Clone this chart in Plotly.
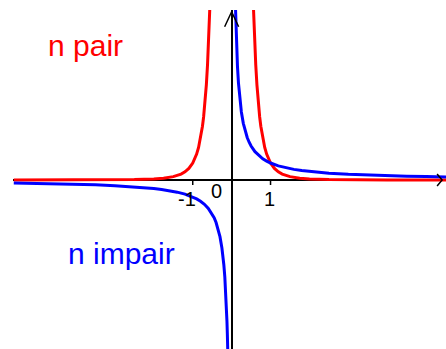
import plotly.graph_objects as go

# ---- data ----
# even n curve (red)
RED_X_LEFT = [-5.6, -4.0, -3.0, -2.5, -2.0, -1.75, -1.5, -1.4, -1.3, -1.2, -1.1, -1.0,
              -0.95, -0.9, -0.85, -0.8, -0.78, -0.75, -0.72, -0.7, -0.68, -0.65, -0.62,
              -0.6, -0.58, -0.56]
RED_Y_LEFT = [0.001, 0.0039, 0.0123, 0.0256, 0.0625, 0.1066, 0.1975, 0.2603, 0.3501, 0.4823,
              0.683, 1.0, 1.228, 1.524, 1.916, 2.441, 2.702, 3.160, 3.721, 4.165, 4.677,
              5.602, 6.768, 7.716, 8.837, 10.168]
RED_X_RIGHT = [0.56, 0.58, 0.6, 0.62, 0.65, 0.68, 0.7, 0.72, 0.75, 0.78, 0.8, 0.85, 0.9,
               0.95, 1.0, 1.1, 1.2, 1.3, 1.4, 1.5, 1.75, 2.0, 2.5, 3.0, 4.0, 5.6]
RED_Y_RIGHT = [10.168, 8.837, 7.716, 6.768, 5.602, 4.677, 4.165, 3.721, 3.160, 2.702, 2.441,
               1.916, 1.524, 1.228, 1.0, 0.683, 0.4823, 0.3501, 0.2603, 0.1975, 0.1066,
               0.0625, 0.0256, 0.0123, 0.0039, 0.001]

# odd n curve (blue)
BLUE_X_LEFT = [-5.6, -5.0, -4.5, -4.0, -3.5, -3.0, -2.5, -2.0, -1.8, -1.6, -1.4, -1.2, -1.0,
               -0.9, -0.8, -0.7, -0.6, -0.5, -0.45, -0.4, -0.35, -0.3, -0.25, -0.225, -0.2,
               -0.175, -0.15, -0.14, -0.13, -0.12, -0.11, -0.1, -0.098]
BLUE_Y_LEFT = [-0.179, -0.2, -0.222, -0.25, -0.286, -0.333, -0.4, -0.5, -0.556, -0.625,
               -0.714, -0.833, -1.0, -1.111, -1.25, -1.429, -1.667, -2.0, -2.222, -2.5,
               -2.857, -3.333, -4.0, -4.444, -5.0, -5.714, -6.667, -7.143, -7.692, -8.333,
               -9.091, -10.0, -10.2]
BLUE_X_RIGHT = [0.098, 0.1, 0.11, 0.12, 0.13, 0.14, 0.15, 0.175, 0.2, 0.225, 0.25, 0.3, 0.35,
                0.4, 0.45, 0.5, 0.6, 0.7, 0.8, 0.9, 1.0, 1.2, 1.4, 1.6, 1.8, 2.0, 2.5, 3.0,
                3.5, 4.0, 4.5, 5.0, 5.6]
BLUE_Y_RIGHT = [10.2, 10.0, 9.091, 8.333, 7.692, 7.143, 6.667, 5.714, 5.0, 4.444, 4.0, 3.333,
                2.857, 2.5, 2.222, 2.0, 1.667, 1.429, 1.25, 1.111, 1.0, 0.833, 0.714, 0.625,
                0.556, 0.5, 0.4, 0.333, 0.286, 0.25, 0.222, 0.2, 0.179]

TICK_VALUES = [-1, 1]
TICK_LABELS = ["-1", "1"]
ORIGIN_LABEL = "0"
LABEL_EVEN = "n pair"
LABEL_ODD = "n impair"

# ---- layout constants ----
W, H = 446, 349
M_L, M_R, M_T, M_B = 13, 0, 10, 0
X_RANGE = [-5.62, 5.51]
Y_RANGE = [-9.94, 10.0]
PW, PH = W - M_L - M_R, H - M_T - M_B
PX_X = PW / (X_RANGE[1] - X_RANGE[0])   # pixels per x unit
PX_Y = PH / (Y_RANGE[1] - Y_RANGE[0])   # pixels per y unit

RED = "#ff0000"
BLUE = "#0000ff"
FONT = "Liberation Sans, Arial, sans-serif"

fig = go.Figure()

line_kw = dict(mode="lines", hoverinfo="skip", showlegend=False)
fig.add_trace(go.Scatter(x=RED_X_LEFT, y=RED_Y_LEFT, line=dict(color=RED, width=3), **line_kw))
fig.add_trace(go.Scatter(x=RED_X_RIGHT, y=RED_Y_RIGHT, line=dict(color=RED, width=3), **line_kw))
fig.add_trace(go.Scatter(x=BLUE_X_LEFT, y=BLUE_Y_LEFT, line=dict(color=BLUE, width=3), **line_kw))
fig.add_trace(go.Scatter(x=BLUE_X_RIGHT, y=BLUE_Y_RIGHT, line=dict(color=BLUE, width=3), **line_kw))

# tick marks below the x axis (5 px)
tick_len = 5 / PX_Y
tx, ty = [], []
for v in TICK_VALUES:
    tx += [v, v, None]
    ty += [0, -tick_len, None]
fig.add_trace(go.Scatter(x=tx, y=ty, line=dict(color="black", width=1.5), **line_kw))

# arrowheads at ends of axes
y_tip = Y_RANGE[1] - 1.7 / PX_Y
ax_w, ax_h = 7 / PX_X, 15 / PX_Y
x_tip = 5.41
bx_w, bx_h = 5 / PX_X, 6 / PX_Y
fig.add_trace(go.Scatter(
    x=[-ax_w, 0, ax_w, None, x_tip - bx_w, x_tip, x_tip - bx_w],
    y=[y_tip - ax_h, y_tip, y_tip - ax_h, None, bx_h, 0, -bx_h],
    line=dict(color="black", width=1.5), **line_kw))

annotations = []
# tick labels
for v, lab in zip(TICK_VALUES, TICK_LABELS):
    if v < 0:
        annotations.append(dict(x=v, y=0, xref="x", yref="y", text=lab, showarrow=False,
                                xanchor="right", yanchor="middle", xshift=5, yshift=-19,
                                font=dict(family=FONT, size=20, color="black")))
    else:
        annotations.append(dict(x=v, y=0, xref="x", yref="y", text=lab, showarrow=False,
                                xanchor="center", yanchor="middle", xshift=-1, yshift=-19,
                                font=dict(family=FONT, size=20, color="black")))
annotations.append(dict(x=0, y=0, xref="x", yref="y", text=ORIGIN_LABEL, showarrow=False,
                        xanchor="center", yanchor="middle", xshift=-15, yshift=-11,
                        font=dict(family=FONT, size=20, color="black")))
# curve labels
annotations.append(dict(x=(85.5 - M_L) / PW, y=(H - 45) / PH, xref="paper", yref="paper",
                        text=LABEL_EVEN, showarrow=False, xanchor="center", yanchor="middle",
                        font=dict(family=FONT, size=30, color=RED)))
annotations.append(dict(x=(121.5 - M_L) / PW, y=(H - 253) / PH, xref="paper", yref="paper",
                        text=LABEL_ODD, showarrow=False, xanchor="center", yanchor="middle",
                        font=dict(family=FONT, size=30, color=BLUE)))

axis_common = dict(showgrid=False, showticklabels=False, ticks="", showline=False,
                   zeroline=True, zerolinecolor="black", zerolinewidth=2, fixedrange=True)
fig.update_layout(
    width=W, height=H,
    margin=dict(l=M_L, r=M_R, t=M_T, b=M_B, pad=0),
    paper_bgcolor="white", plot_bgcolor="white",
    xaxis=dict(range=X_RANGE, **axis_common),
    yaxis=dict(range=Y_RANGE, **axis_common),
    annotations=annotations,
    showlegend=False,
)

fig.write_html(
    "out.html",
    config={"displayModeBar": False},
    post_script="document.body.style.margin='0';document.body.style.overflow='hidden';",
)
